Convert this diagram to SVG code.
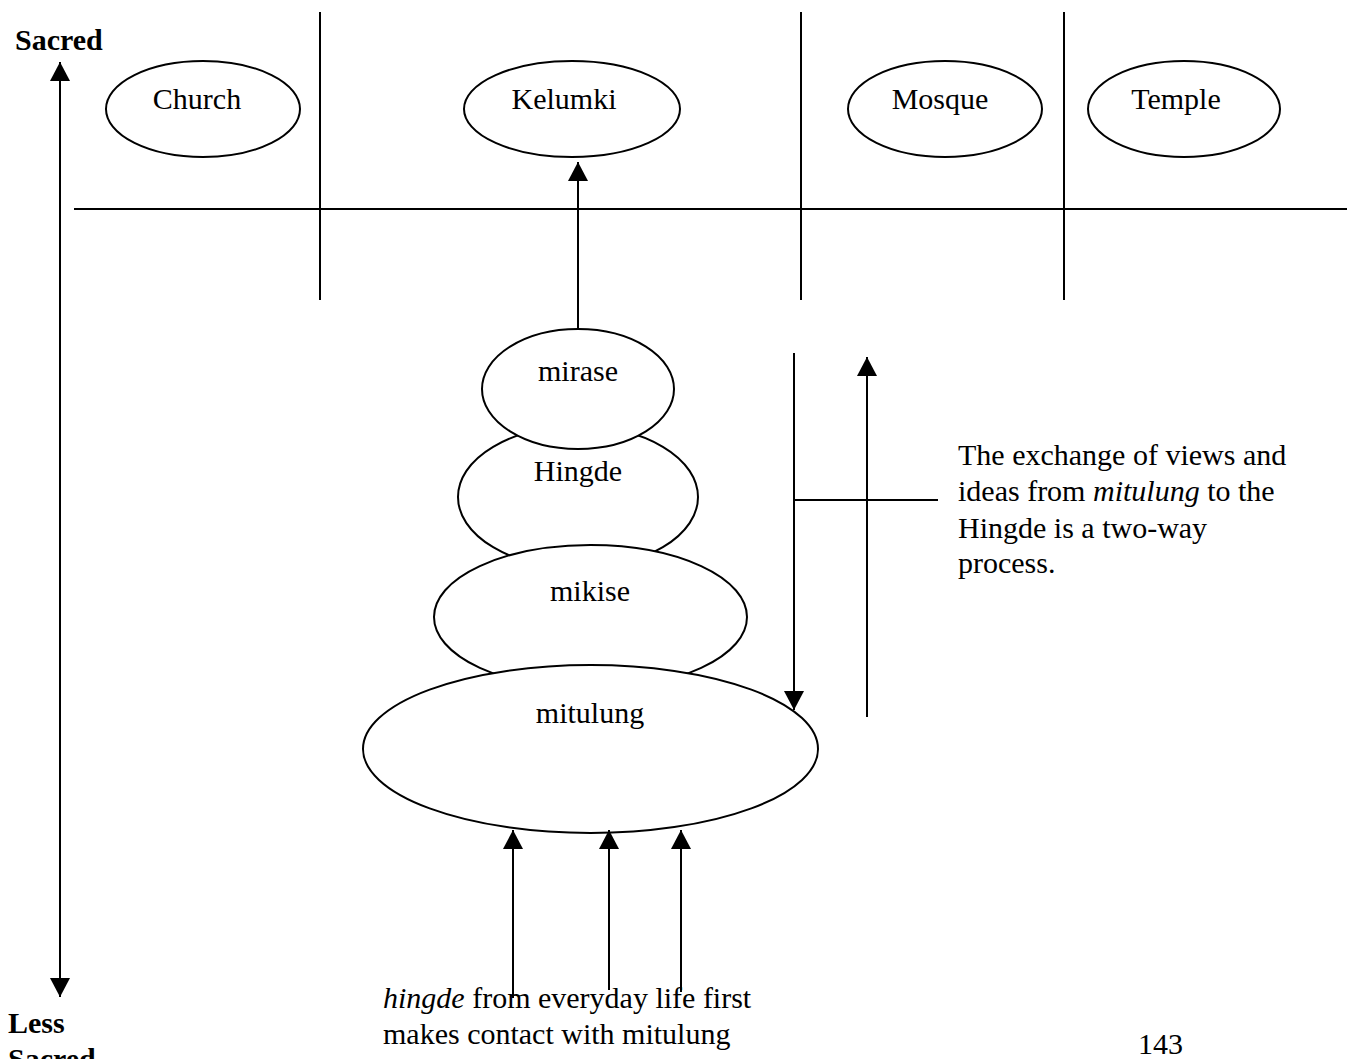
<svg xmlns="http://www.w3.org/2000/svg" width="1360" height="1059" viewBox="0 0 1360 1059">
<style>
.t{font-family:"Liberation Serif","Times New Roman",serif;font-size:30px;fill:#000}
.b{font-weight:bold}
.c{text-anchor:middle}
.n{fill:#fff;stroke:#000;stroke-width:2}
.l{stroke:#000;stroke-width:2;fill:none}
</style>
<defs>
<marker id="ah" viewBox="0 -10 19 20" refX="19" refY="0" markerUnits="userSpaceOnUse" markerWidth="19" markerHeight="20" orient="auto-start-reverse">
<path d="M0,-10 L19,0 L0,10 z" fill="#000"/>
</marker>
</defs>
<rect width="1360" height="1059" fill="#fff"/>
<g id="frame">
<line class="l" x1="320" y1="12" x2="320" y2="300"/>
<line class="l" x1="801" y1="12" x2="801" y2="300"/>
<line class="l" x1="1064" y1="12" x2="1064" y2="300"/>
<line class="l" x1="74" y1="209" x2="1347" y2="209"/>
</g>
<g id="axis-labels">
<text class="t b" x="15" y="50">Sacred</text>
<text class="t b" x="8" y="1033">Less</text>
<text class="t b" x="8" y="1069">Sacred</text>
</g>
<g id="church"><ellipse class="n" cx="203" cy="109" rx="97" ry="48"/><text class="t c" x="197" y="109">Church</text></g>
<g id="kelumki"><ellipse class="n" cx="572" cy="109" rx="108" ry="48"/><text class="t c" x="564" y="109">Kelumki</text></g>
<g id="mosque"><ellipse class="n" cx="945" cy="109" rx="97" ry="48"/><text class="t c" x="940" y="109">Mosque</text></g>
<g id="temple"><ellipse class="n" cx="1184" cy="109" rx="96" ry="48"/><text class="t c" x="1176" y="109">Temple</text></g>
<g id="hingde"><ellipse class="n" cx="578" cy="497" rx="120" ry="71"/><text class="t c" x="578" y="481">Hingde</text></g>
<g id="mirase"><ellipse class="n" cx="578" cy="389" rx="96" ry="60"/><text class="t c" x="578" y="381">mirase</text></g>
<g id="mikise"><ellipse class="n" cx="590.5" cy="617" rx="156.5" ry="72"/><text class="t c" x="590" y="601">mikise</text></g>
<g id="mitulung"><ellipse class="n" cx="590.5" cy="749" rx="227.5" ry="84"/><text class="t c" x="590" y="723">mitulung</text></g>
<g id="connectors">
<line class="l" x1="60" y1="62" x2="60" y2="997" marker-start="url(#ah)" marker-end="url(#ah)"/>
<line class="l" x1="578" y1="329" x2="578" y2="162" marker-end="url(#ah)"/>
<line class="l" x1="794" y1="353" x2="794" y2="710" marker-end="url(#ah)"/>
<line class="l" x1="867" y1="717" x2="867" y2="357" marker-end="url(#ah)"/>
<line class="l" x1="794" y1="500" x2="938" y2="500"/>
<line class="l" x1="513" y1="998" x2="513" y2="830" marker-end="url(#ah)"/>
<line class="l" x1="609" y1="990" x2="609" y2="830" marker-end="url(#ah)"/>
<line class="l" x1="681" y1="992" x2="681" y2="830" marker-end="url(#ah)"/>
</g>
<g id="note-right">
<text class="t" x="958" y="465">The exchange of views and</text>
<text class="t" x="958" y="501">ideas from <tspan font-style="italic">mitulung</tspan> to the</text>
<text class="t" x="958" y="538">Hingde is a two-way</text>
<text class="t" x="958" y="573">process.</text>
</g>
<g id="note-bottom">
<text class="t" x="383" y="1008"><tspan font-style="italic">hingde</tspan> from everyday life first</text>
<text class="t" x="383" y="1044">makes contact with mitulung</text>
</g>
<text class="t" x="1138" y="1054" font-size="26">143</text>
</svg>
